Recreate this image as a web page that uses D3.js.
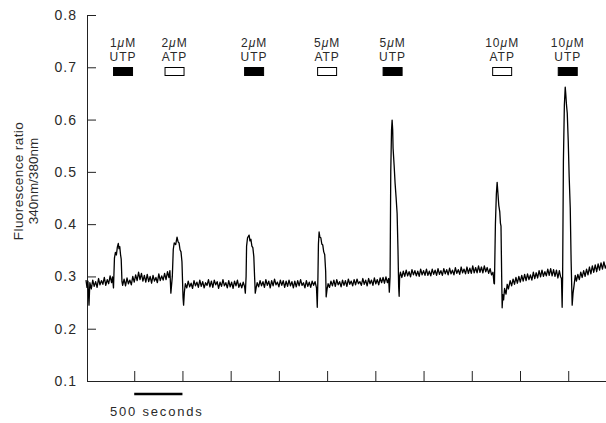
<!DOCTYPE html>
<html>
<head>
<meta charset="utf-8">
<script src="https://cdn.jsdelivr.net/npm/d3@7"></script>
<style>
  body { margin: 0; background: #fff; }
  text { font-family: "Liberation Sans", Arial, Helvetica, sans-serif; fill: #2a2a2a; }
</style>
</head>
<body>
<div id="chart"></div>
<script>
// y axis ticks (fluorescence ratio)
var yTicks = [0.1, 0.2, 0.3, 0.4, 0.5, 0.6, 0.7, 0.8];
// x axis ticks, seconds
var xTicks = [500, 1000, 1500, 2000, 2500, 3000, 3500, 4000, 4500, 5000];

// stimuli: time of application (s), concentration, agonist, filled box for UTP
var stimTimes = [384, 918, 1743, 2500, 3179, 4315, 4995];
var stimDose = ["1", "2", "2", "5", "5", "10", "10"];
var stimDrug = ["UTP", "ATP", "UTP", "ATP", "UTP", "ATP", "UTP"];

// recorded trace: time (s) and 340/380 ratio
var traceTime = [
  0, 10, 20, 31, 40, 55, 70, 85, 100, 115, 130, 145, 160, 175, 190, 205, 220, 235, 250, 265, 275,
  285, 295, 305, 315, 325, 335, 342, 350, 358, 365, 373, 380,
  395, 410, 425, 440, 455, 470, 485, 500, 515, 530, 545, 560, 575, 590, 605, 620, 635, 650, 665, 680,
  695, 710, 725, 740, 755, 770, 785, 800, 815, 830, 845, 860, 870,
  880, 895, 905, 915, 930, 944, 955, 965, 975, 985, 995, 1006, 1012, 1020, 1030,
  1045, 1060, 1075, 1090, 1105, 1120, 1135, 1150, 1165, 1180, 1195, 1210, 1225, 1240, 1255, 1270,
  1285, 1300, 1315, 1330, 1345, 1360, 1375, 1390, 1405, 1420, 1435, 1450, 1465, 1480, 1495, 1510,
  1525, 1540, 1555, 1570, 1585, 1600, 1615, 1630, 1645,
  1652, 1660, 1665, 1675, 1691, 1700, 1710, 1720, 1730, 1740, 1748, 1755, 1765, 1775,
  1790, 1805, 1820, 1835, 1850, 1865, 1880, 1895, 1910, 1925, 1940, 1955, 1970, 1985, 2000, 2015,
  2030, 2045, 2060, 2075, 2090, 2105, 2120, 2135, 2150, 2165, 2180, 2195, 2210, 2225, 2240, 2255,
  2270, 2285, 2300, 2315, 2330, 2345, 2360, 2375, 2390,
  2398, 2405, 2410, 2417, 2425, 2435, 2445, 2455, 2465, 2475, 2485, 2490, 2500, 2510,
  2525, 2540, 2555, 2570, 2585, 2600, 2615, 2630, 2645, 2660, 2675, 2690, 2705, 2720, 2735, 2750,
  2765, 2780, 2795, 2810, 2825, 2840, 2855, 2870, 2885, 2900, 2915, 2930, 2945, 2960, 2975, 2990,
  3005, 3020, 3035, 3050, 3065, 3080, 3095, 3110, 3125, 3138,
  3145, 3153, 3160, 3168, 3174, 3180, 3184, 3195, 3205, 3215, 3226, 3235, 3242, 3247, 3252, 3260,
  3275, 3290, 3305, 3320, 3335, 3350, 3365, 3380, 3395, 3410, 3425, 3440, 3455, 3470, 3485, 3500,
  3515, 3530, 3545, 3560, 3575, 3590, 3605, 3620, 3635, 3650, 3665, 3680, 3695, 3710, 3725, 3740,
  3755, 3770, 3785, 3800, 3815, 3830, 3845, 3860, 3875, 3890, 3905, 3920, 3935, 3950, 3965, 3980,
  3995, 4010, 4025, 4040, 4055, 4070, 4085, 4100, 4115, 4130, 4145, 4160, 4175, 4190, 4205, 4220,
  4230, 4235, 4245, 4255, 4263, 4270, 4280, 4290, 4297, 4303, 4310, 4315, 4322, 4330, 4340, 4355,
  4367, 4380, 4398,
  4413, 4428, 4443, 4458, 4473, 4488, 4503, 4518, 4533, 4548, 4563, 4578, 4593, 4608, 4623, 4638,
  4653, 4668, 4683, 4698, 4713, 4728, 4743, 4758, 4773, 4788, 4803, 4818, 4833, 4848, 4863, 4878,
  4893, 4908, 4920, 4930,
  4937, 4942, 4950, 4960, 4969, 4975, 4982, 4990, 5000, 5010, 5021, 5030, 5041, 5050, 5060, 5073, 5085,
  5100, 5115, 5130, 5145, 5160, 5175, 5190, 5205, 5220, 5235, 5250, 5265, 5280, 5295, 5310, 5325,
  5340, 5355, 5370, 5385, 5400
];
var traceRatio = [
  // start, first spike down
  0.293, 0.279, 0.291, 0.245, 0.288, 0.276, 0.293, 0.281, 0.290, 0.279, 0.296, 0.284, 0.292, 0.285, 0.298, 0.283, 0.294, 0.286, 0.301, 0.288, 0.299,
  // 1 uM UTP
  0.278, 0.335, 0.346, 0.341, 0.356, 0.363, 0.353, 0.357, 0.342, 0.333, 0.290, 0.283,
  0.295, 0.282, 0.297, 0.286, 0.293, 0.284, 0.300, 0.289, 0.303, 0.292, 0.308, 0.294, 0.306, 0.291, 0.302, 0.289, 0.304, 0.290, 0.300, 0.287,
  0.302, 0.291, 0.298, 0.288, 0.305, 0.292, 0.301, 0.293, 0.306, 0.294, 0.309, 0.298, 0.311,
  // 2 uM ATP
  0.268, 0.300, 0.352, 0.364, 0.361, 0.375, 0.366, 0.364, 0.351, 0.347, 0.328, 0.260, 0.245, 0.270, 0.286,
  0.278, 0.291, 0.280, 0.287, 0.277, 0.292, 0.282, 0.289, 0.279, 0.293, 0.281, 0.290, 0.278, 0.288, 0.283, 0.294,
  0.280, 0.291, 0.279, 0.293, 0.284, 0.290, 0.277, 0.289, 0.281, 0.294, 0.282, 0.288, 0.278, 0.292, 0.280, 0.289,
  0.277, 0.291, 0.282, 0.293, 0.279, 0.287, 0.278, 0.289, 0.280,
  // 2 uM UTP
  0.268, 0.300, 0.358, 0.374, 0.379, 0.368, 0.371, 0.358, 0.355, 0.338, 0.300, 0.268, 0.279, 0.288,
  0.280, 0.292, 0.282, 0.290, 0.279, 0.294, 0.283, 0.291, 0.278, 0.292, 0.282, 0.295, 0.284, 0.289, 0.280, 0.293,
  0.283, 0.292, 0.279, 0.291, 0.281, 0.293, 0.282, 0.290, 0.278, 0.291, 0.280, 0.292, 0.282, 0.294, 0.283, 0.288,
  0.278, 0.292, 0.281, 0.289, 0.279, 0.291, 0.283, 0.290, 0.278,
  // 5 uM ATP
  0.241, 0.300, 0.362, 0.385, 0.375, 0.374, 0.362, 0.360, 0.347, 0.342, 0.310, 0.261, 0.276, 0.286,
  0.279, 0.291, 0.282, 0.293, 0.281, 0.294, 0.284, 0.290, 0.280, 0.293, 0.283, 0.292, 0.281, 0.295, 0.285, 0.291,
  0.282, 0.294, 0.284, 0.295, 0.286, 0.290, 0.283, 0.296, 0.285, 0.293, 0.282, 0.296, 0.286, 0.293, 0.283, 0.297,
  0.286, 0.294, 0.284, 0.297, 0.288, 0.298, 0.287, 0.299, 0.288, 0.296,
  // 5 uM UTP
  0.270, 0.300, 0.500, 0.580, 0.599, 0.580, 0.545, 0.512, 0.478, 0.452, 0.420, 0.350, 0.280, 0.262, 0.300, 0.308,
  0.298, 0.310, 0.300, 0.312, 0.301, 0.309, 0.299, 0.313, 0.303, 0.311, 0.301, 0.310, 0.300, 0.314, 0.303, 0.311,
  0.302, 0.314, 0.302, 0.310, 0.301, 0.314, 0.304, 0.312, 0.302, 0.315, 0.304, 0.311, 0.302, 0.315, 0.305, 0.313,
  0.303, 0.316, 0.305, 0.312, 0.303, 0.317, 0.306, 0.313, 0.304, 0.318, 0.307, 0.314, 0.305, 0.318, 0.306, 0.316,
  0.306, 0.320, 0.307, 0.317, 0.307, 0.320, 0.308, 0.318, 0.307, 0.320, 0.309, 0.317, 0.306, 0.315, 0.303, 0.308,
  // 10 uM ATP
  0.287, 0.286, 0.400, 0.458, 0.480, 0.462, 0.436, 0.424, 0.402, 0.396, 0.300, 0.240, 0.265, 0.255, 0.277, 0.266,
  0.285, 0.276, 0.292,
  0.282, 0.295, 0.285, 0.298, 0.287, 0.300, 0.289, 0.302, 0.291, 0.304, 0.292, 0.305, 0.294, 0.303, 0.293, 0.308,
  0.296, 0.307, 0.297, 0.311, 0.299, 0.312, 0.300, 0.309, 0.301, 0.314, 0.302, 0.315, 0.301, 0.313, 0.300, 0.312,
  0.297, 0.311, 0.300, 0.296,
  // 10 uM UTP
  0.241, 0.300, 0.520, 0.628, 0.662, 0.648, 0.628, 0.612, 0.560, 0.490, 0.431, 0.330, 0.245, 0.268, 0.282, 0.302, 0.291,
  0.304, 0.294, 0.308, 0.298, 0.311, 0.300, 0.314, 0.303, 0.318, 0.305, 0.320, 0.308, 0.322, 0.309, 0.324, 0.312,
  0.326, 0.314, 0.328, 0.316, 0.323
];

var width = 606, height = 423;
var margin = {top: 15, right: 0, bottom: 42, left: 86};

var svg = d3.select("#chart")
  .append("svg")
  .attr("width", width)
  .attr("height", height);

var x = d3.scaleLinear()
  .domain([0, 5400])
  .range([margin.left, margin.left + 520.8]);

var y = d3.scaleLinear()
  .domain([0.1, 0.8])
  .range([height - margin.bottom, margin.top]);

var x0 = 87;
var ink = "#222";

// y axis: ticks point inward, labels on the left
var yAxis = svg.append("g")
  .attr("transform", "translate(" + x0 + ",0)")
  .call(d3.axisRight(y)
    .tickValues(yTicks)
    .tickSize(9)
    .tickSizeOuter(0)
    .tickFormat(d3.format(".1f")));
yAxis.select(".domain").attr("stroke", ink).attr("d", "M0.5," + y(0.8) + "V" + y(0.1));
yAxis.selectAll(".tick line").attr("stroke", ink).attr("x1", 0.5);
yAxis.selectAll(".tick text")
  .attr("x", -10)
  .attr("text-anchor", "end")
  .style("font-size", "14px")
  .style("letter-spacing", "1px")
  .style("font-family", "'Liberation Sans', Arial, sans-serif")
  .attr("fill", "#2a2a2a");

// x axis: ticks point up, no labels
var xAxis = svg.append("g")
  .attr("transform", "translate(0," + y(0.1) + ")")
  .call(d3.axisTop(x)
    .tickValues(xTicks)
    .tickSize(10)
    .tickSizeOuter(0)
    .tickFormat(""));
xAxis.select(".domain").attr("stroke", ink).attr("d", "M" + x0 + ",0.5H" + width);
xAxis.selectAll(".tick line").attr("stroke", ink);

// axis title
var ylab = svg.append("text")
  .attr("transform", "translate(23," + 181 + ") rotate(-90)")
  .attr("text-anchor", "middle")
  .style("font-size", "13.5px");
ylab.append("tspan").attr("x", 0).attr("y", 0).style("letter-spacing", "0.4px").text("Fluorescence ratio");
ylab.append("tspan").attr("x", 0).attr("y", 15).text("340nm/380nm");

// trace
var trace = traceTime.map(function(t, i) { return [t, traceRatio[i]]; });
svg.append("path")
  .datum(trace)
  .attr("fill", "none")
  .attr("stroke", "#000")
  .attr("stroke-width", 1.3)
  .attr("stroke-linejoin", "round")
  .attr("d", d3.line()
    .x(function(d) { return x(d[0]); })
    .y(function(d) { return y(d[1]); }));

// stimulus labels and boxes
var stim = svg.selectAll(".stim")
  .data(stimTimes)
  .enter()
  .append("g")
  .attr("class", "stim")
  .attr("transform", function(d) { return "translate(" + x(d) + ",0)"; });

var dose = stim.append("text")
  .attr("y", 47)
  .attr("text-anchor", "middle")
  .style("font-size", "12px")
  .style("letter-spacing", "1px");
dose.append("tspan").text(function(d, i) { return stimDose[i]; });
dose.append("tspan").style("font-style", "italic").text("\u03bc");
dose.append("tspan").text("M");

stim.append("text")
  .attr("y", 61)
  .attr("text-anchor", "middle")
  .style("font-size", "12px")
  .style("letter-spacing", "1px")
  .text(function(d, i) { return stimDrug[i]; });

stim.append("rect")
  .attr("x", -9.5)
  .attr("y", 67.5)
  .attr("width", 19)
  .attr("height", 8)
  .attr("fill", function(d, i) { return stimDrug[i] === "UTP" ? "#000" : "#fff"; })
  .attr("stroke", "#000")
  .attr("stroke-width", 1);

// scale bar: 500 seconds
svg.append("line")
  .attr("x1", x(500))
  .attr("x2", x(1000))
  .attr("y1", 394)
  .attr("y2", 394)
  .attr("stroke", "#000")
  .attr("stroke-width", 2.5);

svg.append("text")
  .attr("x", 110)
  .attr("y", 416)
  .style("font-size", "13px")
  .style("letter-spacing", "1.8px")
  .text("500 seconds");
</script>
</body>
</html>
